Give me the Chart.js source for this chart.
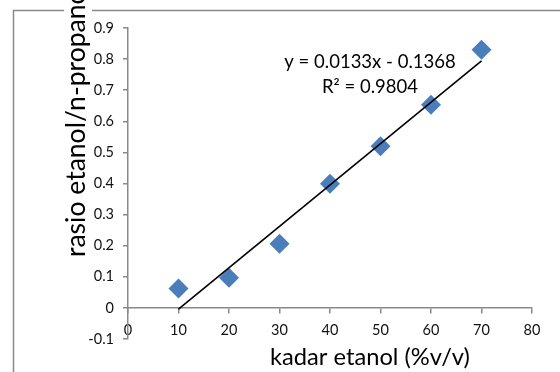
<!DOCTYPE html>
<html>
<head>
<meta charset="utf-8">
<script src="https://cdn.jsdelivr.net/npm/chart.js@4/dist/chart.umd.min.js"></script>
<style>
  html, body { margin: 0; padding: 0; background: #fff; }
  #c { display: block; }
</style>
</head>
<body>
<canvas id="c" width="560" height="372"></canvas>
<script>
// values
const kadar = [10, 20, 30, 40, 50, 60, 70];
const rasio = [0.062, 0.097, 0.206, 0.399, 0.52, 0.653, 0.83];
// trendline ends (linear fit shown on the chart)
const trendX = [10, 70];
const trendY = [-0.004, 0.794];
const eqText = "y = 0.0133x - 0.1368";
const r2Text = "R\u00b2 = 0.9804";
const xTitle = "kadar etanol (%v/v)";
const yTitle = "rasio etanol/n-propanol";

const gray = "#898989";
const font = "Lato, 'Open Sans', sans-serif";

// frame, axis titles and the trendline label
const decor = {
  id: "decor",
  beforeDraw(chart) {
    const ctx = chart.ctx;
    ctx.save();
    ctx.strokeStyle = gray;
    ctx.lineWidth = 1.5;
    ctx.beginPath();
    ctx.moveTo(13.5, 380);
    ctx.lineTo(13.5, 10.5);
    ctx.lineTo(570, 10.5);
    ctx.stroke();
    ctx.restore();
  },
  afterDraw(chart) {
    const ctx = chart.ctx;
    ctx.save();
    ctx.fillStyle = "#000";

    // y title, rotated, anchored at its start (runs off the top like the original)
    ctx.save();
    ctx.translate(85, 257);
    ctx.rotate(-Math.PI / 2);
    ctx.font = "26.5px " + font;
    ctx.textAlign = "left";
    ctx.textBaseline = "alphabetic";
    const w = ctx.measureText(yTitle).width;
    ctx.fillStyle = "#fff";
    ctx.fillRect(0, -21, w, 28);
    ctx.fillStyle = "#000";
    ctx.fillText(yTitle, 0, 0);
    ctx.restore();

    // x title
    ctx.font = "23.7px " + font;
    ctx.textAlign = "left";
    ctx.textBaseline = "alphabetic";
    ctx.fillText(xTitle, 270, 365);

    // equation
    ctx.font = "18.5px " + font;
    ctx.textAlign = "center";
    ctx.fillText(eqText, 370, 67.5);
    ctx.fillText(r2Text, 370, 93);
    ctx.restore();
  }
};

new Chart(document.getElementById("c"), {
  type: "scatter",
  data: {
    datasets: [
      {
        label: "trend",
        data: trendX.map((x, i) => ({ x: x, y: trendY[i] })),
        showLine: true,
        borderColor: "#000",
        borderWidth: 1.6,
        pointRadius: 0,
        order: 0
      },
      {
        label: "rasio",
        data: kadar.map((x, i) => ({ x: x, y: rasio[i] })),
        pointStyle: "rectRot",
        pointRadius: 10,
        backgroundColor: "#4a7ebb",
        borderColor: "#4a7ebb",
        borderWidth: 0,
        order: 1
      }
    ]
  },
  options: {
    responsive: false,
    animation: false,
    layout: { padding: { left: 0, top: 28, right: 28, bottom: 33 } },
    plugins: {
      legend: { display: false },
      tooltip: { enabled: false }
    },
    scales: {
      x: {
        type: "linear",
        position: { y: 0 },
        min: 0,
        max: 80,
        ticks: {
          stepSize: 10,
          padding: 9,
          color: "#111",
          font: { family: font, size: 14.5 }
        },
        grid: { drawOnChartArea: false, tickLength: 5, color: gray, lineWidth: 1.5 },
        border: { color: gray, width: 1.5 }
      },
      y: {
        type: "linear",
        position: "left",
        min: -0.1,
        max: 0.9,
        afterFit(s) { s.width = 128; },
        ticks: {
          stepSize: 0.1,
          padding: 9,
          color: "#111",
          font: { family: font, size: 14.5 },
          callback: v => String(Math.round(v * 10) / 10)
        },
        grid: { drawOnChartArea: false, tickLength: 5, color: gray, lineWidth: 1.5 },
        border: { color: gray, width: 1.5 }
      }
    }
  },
  plugins: [decor]
});
</script>
</body>
</html>
